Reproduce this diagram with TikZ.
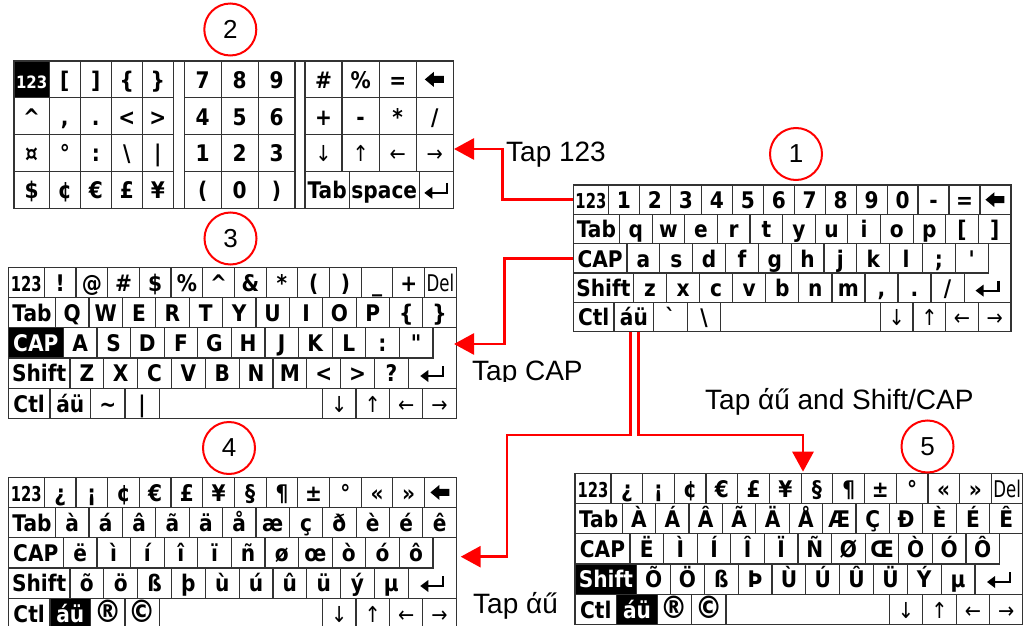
\documentclass[tikz,border=0pt]{standalone}
\usepackage{fontspec}
\usetikzlibrary{arrows.meta}
\newfontfamily\kbfont{DejaVu Sans}[FakeStretch=0.88]
\newfontfamily\kbnarrow{DejaVu Sans}[FakeStretch=0.72]
\newfontfamily\labfont{Liberation Sans}
\newcommand\kbf{\kbfont\bfseries\fontsize{22.9}{24}\selectfont}
\newcommand\lpar{(}
\newcommand\rpar{)}
\newcommand\bigsym[1]{{\kbfont\bfseries\fontsize{31}{32}\selectfont #1}}
\def\sx{1}\def\sy{1}
\newcommand\kkey[7]{%
  \pgfmathsetmacro\kw{\sx*((#3)-(#2))}%
  \pgfmathsetmacro\kh{\sy*((#5)-(#4))}%
  \node[kbkey,#6,minimum width=\kw pt,minimum height=\kh pt] (#1) at ({((#2)+(#3))/2},{((#4)+(#5))/2}) {#7};}
\newcommand\krow[7]{%
  \foreach \kl [count=\ki] in {#7} {%
    \kkey{#1-\ki}{(#4)+(\ki-1)*(#5)}{(#4)+\ki*(#5)}{#2}{#3}{#6}{\kl}}}
\newcommand\kbottom[4]{%
  \kkey{#1ctl}{0}{41.7}{120.8}{151}{}{Ctl}
  \kkey{#1au}{41.7}{82.3}{120.8}{151}{#2}{áü}
  \kkey{#1k3}{82.3}{116.7}{120.8}{151}{}{#3}
  \kkey{#1k4}{116.7}{151}{120.8}{151}{}{#4}
  \kkey{#1spc}{151}{314.3}{120.8}{151}{}{}
  \krow{#1ar}{120.8}{151}{314.3}{33.43}{kbarr}{↓,↑,←,→}
  \draw[kbline] (424.6,60.4) -- (448,60.4) -- (448,120.8) -- (400,120.8) -- (400,90.6) -- (424.6,90.6) -- cycle;
  \pic at (424,105.7) {entg};}
\tikzset{
  kbline/.style={draw=black!80, line width=1.2pt},
  kbkey/.style={draw=black!80, line width=1.2pt, inner sep=0pt, outer sep=0pt, text height=17.6pt, text depth=0pt, font=\kbf},
  kbinv/.style={fill=black, text=white},
  kbsmall/.style={font={\kbnarrow\bfseries\fontsize{20.5}{22}\selectfont}},
  kbtiny/.style={font={\kbfont\bfseries\fontsize{17}{18}\selectfont}},
  kbdel/.style={font={\kbnarrow\fontsize{23}{24}\selectfont}},
  kbarr/.style={font={\kbfont\fontsize{22}{24}\selectfont}},
  bksp/.pic={\fill[black] (-10,0) -- (-1,-7.5) -- (-1,-3.5) -- (9,-3.5) -- (9,3.5) -- (-1,3.5) -- (-1,7.5) -- cycle;},
  entg/.pic={\draw[black, line width=2.2pt] (11,-7) -- (11,3) -- (-5,3); \fill[black] (-12,3) -- (-4,-3) -- (-4,9) -- cycle;},
  redl/.style={draw=red, line width=2.8pt, -{Triangle[length=20pt,width=21pt]}},
  lab/.style={font={\labfont\fontsize{28}{30}\selectfont}, inner sep=0pt, anchor=base west},
  circ/.style={circle, draw=red, line width=2pt, minimum size=52pt, inner sep=0pt, font={\labfont\fontsize{26}{28}\selectfont}}
}
\begin{document}
\begin{tikzpicture}[x=1pt,y=-1pt]
\useasboundingbox (0,0) rectangle (1023,626);
% ---------- keyboard 2 (numeric) ----------
\kkey{b123}{14}{49.3}{61}{97.8}{kbinv,kbtiny}{123}
\krow{b1a}{61}{97.8}{49.3}{31}{}{[,],\{,\}}
\krow{b1b}{61}{97.8}{184.3}{36.9}{}{7,8,9}
\krow{b1c}{61}{97.8}{305}{37.08}{}{\#,\%,=,{}}
\pic at (b1c-4) {bksp};
\kkey{b2x}{14}{49.3}{97.8}{134.7}{}{\textasciicircum}
\krow{b2a}{97.8}{134.7}{49.3}{31}{}{{,},{.},<,>}
\krow{b2b}{97.8}{134.7}{184.3}{36.9}{}{4,5,6}
\krow{b2c}{97.8}{134.7}{305}{37.08}{}{+,-,*,/}
\kkey{b3x}{14}{49.3}{134.7}{171.5}{}{¤}
\krow{b3a}{134.7}{171.5}{49.3}{31}{}{°,:,\textbackslash,|}
\krow{b3b}{134.7}{171.5}{184.3}{36.9}{}{1,2,3}
\krow{b3c}{134.7}{171.5}{305}{37.08}{kbarr}{↓,↑,←,→}
\kkey{b4x}{14}{49.3}{171.5}{208.3}{}{\$}
\krow{b4a}{171.5}{208.3}{49.3}{31}{}{¢,€,£,¥}
\krow{b4b}{171.5}{208.3}{184.3}{36.9}{}{\lpar,0,\rpar}
\kkey{btab}{305}{349.3}{171.5}{208.3}{}{Tab}
\kkey{bspc}{349.3}{419.3}{171.5}{208.3}{}{space}
\kkey{bent}{419.3}{453.3}{171.5}{208.3}{}{}
\pic at (bent) {entg};
\kkey{bgap1}{173.3}{184.3}{61}{208.3}{}{}
\kkey{bgap2}{295}{305}{61}{208.3}{}{}
% ---------- keyboard 1 ----------
\begin{scope}[shift={(573.3,185)},xscale=0.977,yscale=0.971]
\def\sx{0.977}\def\sy{0.971}
\kkey{a123}{0}{36}{0}{30.2}{kbsmall}{123}
\krow{a1}{0}{30.2}{36}{31.69}{}{1,2,3,4,5,6,7,8,9,0,-,=,{}}
\pic at (a1-13) {bksp};
\kkey{atab}{0}{47.3}{30.2}{60.4}{}{Tab}
\krow{a2}{30.2}{60.4}{47.3}{33.39}{}{q,w,e,r,t,y,u,i,o,p,[,]}
\kkey{acap}{0}{55}{60.4}{90.6}{}{CAP}
\krow{a3}{60.4}{90.6}{55}{33.6}{}{a,s,d,f,g,h,j,k,l,;,\char"27}
\kkey{ashift}{0}{61.7}{90.6}{120.8}{}{Shift}
\krow{a4}{90.6}{120.8}{61.7}{33.83}{}{z,x,c,v,b,n,m,{,},{.},/}
\kbottom{a}{}{\char"60}{\textbackslash}
\end{scope}
% ---------- keyboard 3 ----------
\begin{scope}[shift={(8.3,267.3)}]
\kkey{c123}{0}{36}{0}{30.2}{kbsmall}{123}
\krow{c1}{0}{30.2}{36}{31.69}{}{!,@,\#,\$,\%,\textasciicircum,\&,*,\lpar,\rpar,\_,+}
\kkey{cdel}{416.3}{448}{0}{30.2}{kbdel}{Del}
\kkey{ctab}{0}{47.3}{30.2}{60.4}{}{Tab}
\krow{c2}{30.2}{60.4}{47.3}{33.39}{}{Q,W,E,R,T,Y,U,I,O,P,\{,\}}
\kkey{ccap}{0}{55}{60.4}{90.6}{kbinv}{CAP}
\krow{c3}{60.4}{90.6}{55}{33.6}{}{A,S,D,F,G,H,J,K,L,:,"}
\kkey{cshift}{0}{61.7}{90.6}{120.8}{}{Shift}
\krow{c4}{90.6}{120.8}{61.7}{33.83}{}{Z,X,C,V,B,N,M,<,>,?}
\kbottom{c}{}{\textasciitilde}{|}
\end{scope}
% ---------- keyboard 4 ----------
\begin{scope}[shift={(8.3,477.3)}]
\kkey{d123}{0}{36}{0}{30.2}{kbsmall}{123}
\krow{d1}{0}{30.2}{36}{31.69}{}{¿,¡,¢,€,£,¥,§,¶,±,°,«,»,{}}
\pic at (d1-13) {bksp};
\kkey{dtab}{0}{47.3}{30.2}{60.4}{}{Tab}
\krow{d2}{30.2}{60.4}{47.3}{33.39}{}{à,á,â,ã,ä,å,æ,ç,ð,è,é,ê}
\kkey{dcap}{0}{55}{60.4}{90.6}{}{CAP}
\krow{d3}{60.4}{90.6}{55}{33.6}{}{ë,ì,í,î,ï,ñ,ø,œ,ò,ó,ô}
\kkey{dshift}{0}{61.7}{90.6}{120.8}{}{Shift}
\krow{d4}{90.6}{120.8}{61.7}{33.83}{}{õ,ö,ß,þ,ù,ú,û,ü,ý,µ}
\kbottom{d}{kbinv}{\bigsym{®}}{\bigsym{©}}
\end{scope}
% ---------- keyboard 5 ----------
\begin{scope}[shift={(575,473.3)}]
\kkey{e123}{0}{36}{0}{30.2}{kbsmall}{123}
\krow{e1}{0}{30.2}{36}{31.69}{}{¿,¡,¢,€,£,¥,§,¶,±,°,«,»}
\kkey{edel}{416.3}{448}{0}{30.2}{kbdel}{Del}
\kkey{etab}{0}{47.3}{30.2}{60.4}{}{Tab}
\krow{e2}{30.2}{60.4}{47.3}{33.39}{}{À,Á,Â,Ã,Ä,Å,Æ,Ç,Ð,È,É,Ê}
\kkey{ecap}{0}{55}{60.4}{90.6}{}{CAP}
\krow{e3}{60.4}{90.6}{55}{33.6}{}{Ë,Ì,Í,Î,Ï,Ñ,Ø,Œ,Ò,Ó,Ô}
\kkey{eshift}{0}{61.7}{90.6}{120.8}{kbinv}{Shift}
\krow{e4}{90.6}{120.8}{61.7}{33.83}{}{Õ,Ö,ß,Þ,Ù,Ú,Û,Ü,Ý,µ}
\kbottom{e}{kbinv}{\bigsym{®}}{\bigsym{©}}
\end{scope}
% ---------- circles ----------
\node[circ] (n1) at (796,154) {1};
\node[circ] (n2) at (230.3,29.5) {2};
\node[circ] (n3) at (230.5,238.5) {3};
\node[circ] (n4) at (229,448) {4};
\node[circ] (n5) at (927.5,446.5) {5};
% ---------- connectors ----------
\coordinate (p1) at (454,149);
\coordinate (p2) at (454,344);
\coordinate (q3) at (507,435);
\coordinate (p3) at (460.7,556.7);
\coordinate (q4) at (803,435);
\coordinate (p4) at (803,471.7);
\draw[redl] (a123.west) -- ++(-70.5,0) |- (p1);
\draw[redl] (acap.west) -- ++(-69,0) |- (p2);
\draw[redl] ([xshift=-3pt]aau.south) |- (q3) |- (p3);
\draw[redl] ([xshift=5pt]aau.south) |- (q4) -- (p4);
% ---------- texts ----------
\node[lab] (t1) at (506,161) {Tap 123};
\begin{scope}
\clip (460,340) rectangle (620,381.5);
\node[lab] (t2) at (472,380) {Tap CAP};
\end{scope}
\node[lab] (t3) at (705,409) {Tap άű and Shift/CAP};
\node[lab] (t4) at (473,613) {Tap άű};
\end{tikzpicture}
\end{document}
